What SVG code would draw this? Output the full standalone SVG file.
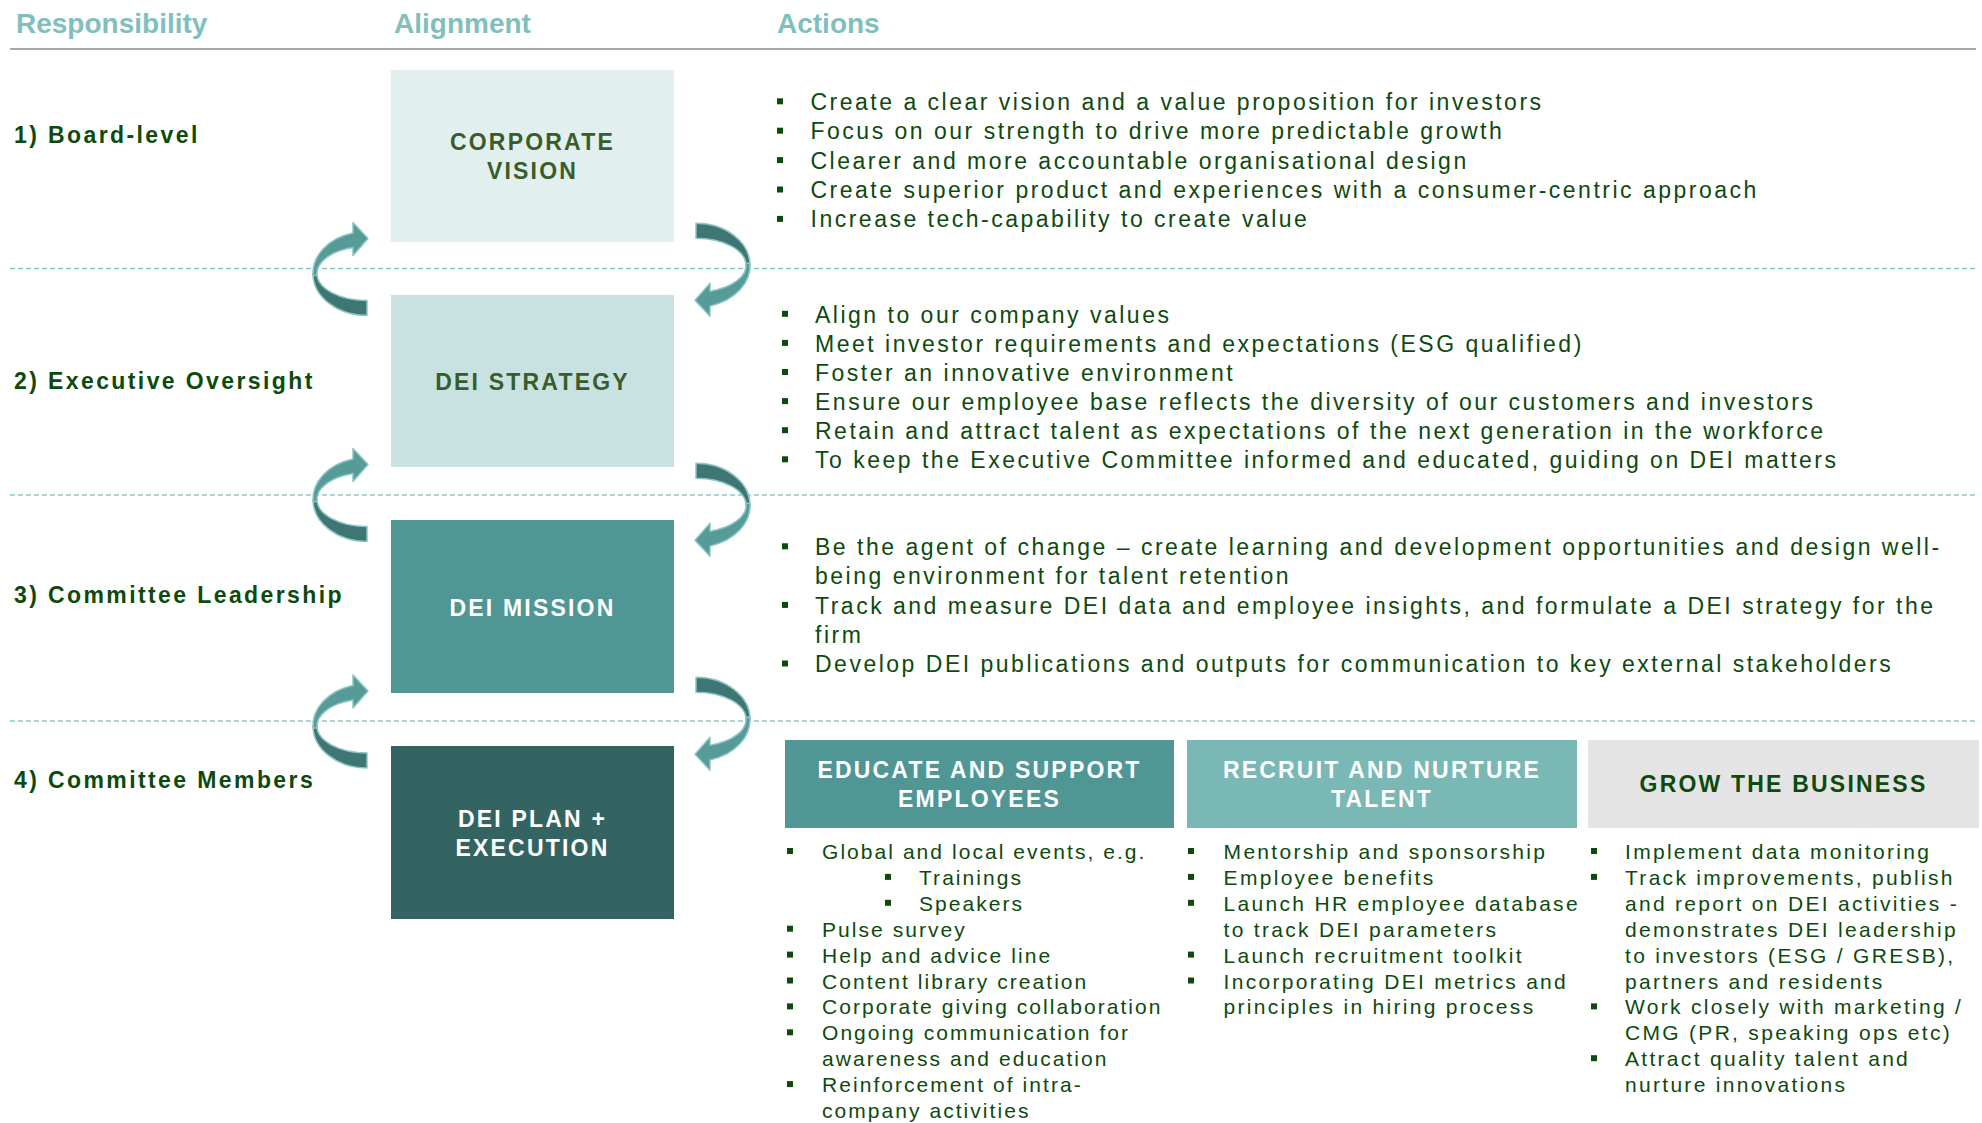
<svg xmlns="http://www.w3.org/2000/svg" xmlns:xlink="http://www.w3.org/1999/xlink" width="1982" height="1123" viewBox="0 0 1982 1123">
<defs>
<style>
.hdr{font-family:"Liberation Sans",Arial,sans-serif;font-weight:bold;font-size:28px;fill:#7FBFBD}
.lbl{font-family:"Liberation Sans",Arial,sans-serif;font-weight:bold;font-size:23px;letter-spacing:2.4px;fill:#0D4A0D}
.bt{font-family:"Liberation Sans",Arial,sans-serif;font-weight:bold;font-size:23px;letter-spacing:2.2px;text-anchor:middle}
.dk{fill:#3A5C2A}
.wh{fill:#FFFFFF}
.gr{fill:#0D4A0D}
.body{font-family:"Liberation Sans",Arial,sans-serif;font-size:23px;letter-spacing:2.5px;fill:#0D4A0D}
.sm{font-family:"Liberation Sans",Arial,sans-serif;font-size:21px;letter-spacing:2.3px;fill:#0D4A0D}
.c1{letter-spacing:2.05px}
.bul{fill:#0D4A0D}
.sep{stroke:#8CCAC8;stroke-width:1.6;stroke-dasharray:5 3;fill:none}
.lt{fill:#579B99;stroke:#8CC5C3;stroke-width:1.5;stroke-linejoin:round}
.dkf{fill:#3E7674;stroke:#8CC5C3;stroke-width:1.5;stroke-linejoin:round}
</style>
<g id="carrow">
<path class="dkf" d="M -54,0 A 54 42 0 0 0 0,42 L 0,27 A 50 27 0 0 1 -50,0 Z"/>
<path class="lt" d="M -14,-40.6 A 54 42 0 0 0 -54,2 L -50,2 A 50 27 0 0 1 -14,-25.9 L -14,-18 L 1,-35 L -14,-51 Z"/>
</g>
</defs>
<rect width="1982" height="1123" fill="#FFFFFF"/>

<g id="headers">
<text class="hdr" x="16" y="33">Responsibility</text>
<text class="hdr" x="394" y="33">Alignment</text>
<text class="hdr" x="777" y="33">Actions</text>
<line x1="10" y1="49" x2="1976" y2="49" stroke="#A8A8A8" stroke-width="2"/>
</g>

<g id="separators">
<line class="sep" x1="10" y1="268.5" x2="1976" y2="268.5"/>
<line class="sep" x1="10" y1="495" x2="1976" y2="495"/>
<line class="sep" x1="10" y1="721" x2="1976" y2="721"/>
</g>

<g id="responsibility-labels">
<text class="lbl" x="14" y="143">1) Board-level</text>
<text class="lbl" x="14" y="389">2) Executive Oversight</text>
<text class="lbl" x="14" y="603">3) Committee Leadership</text>
<text class="lbl" x="14" y="788">4) Committee Members</text>
</g>

<g id="node-corporate-vision">
<rect x="391" y="70" width="283" height="172" fill="#E1EFEF"/>
<text class="bt dk" x="532.5" y="150">CORPORATE</text>
<text class="bt dk" x="532.5" y="178.5">VISION</text>
</g>
<g id="node-dei-strategy">
<rect x="391" y="295" width="283" height="172" fill="#C8E2E1"/>
<text class="bt dk" x="532.5" y="390">DEI STRATEGY</text>
</g>
<g id="node-dei-mission">
<rect x="391" y="520" width="283" height="173" fill="#4F9694"/>
<text class="bt wh" x="532.5" y="616">DEI MISSION</text>
</g>
<g id="node-dei-plan">
<rect x="391" y="746" width="283" height="173" fill="#346462"/>
<text class="bt wh" x="532.5" y="826.7">DEI PLAN +</text>
<text class="bt wh" x="532.5" y="855.7">EXECUTION</text>
</g>

<g id="connectors">
<use xlink:href="#carrow" href="#carrow" transform="translate(367,273.5)"/>
<use xlink:href="#carrow" href="#carrow" transform="translate(367,499.5)"/>
<use xlink:href="#carrow" href="#carrow" transform="translate(367,726)"/>
<use xlink:href="#carrow" href="#carrow" transform="translate(696,265.3) rotate(180)"/>
<use xlink:href="#carrow" href="#carrow" transform="translate(696,505.3) rotate(180)"/>
<use xlink:href="#carrow" href="#carrow" transform="translate(696,719.3) rotate(180)"/>
</g>

<g id="actions-board">
<rect class="bul" x="777" y="98.3" width="6" height="6"/>
<rect class="bul" x="777" y="127.7" width="6" height="6"/>
<rect class="bul" x="777" y="157.1" width="6" height="6"/>
<rect class="bul" x="777" y="186.5" width="6" height="6"/>
<rect class="bul" x="777" y="215.9" width="6" height="6"/>
<text class="body" x="810.5" y="110">Create a clear vision and a value proposition for investors</text>
<text class="body" x="810.5" y="139.4">Focus on our strength to drive more predictable growth</text>
<text class="body" x="810.5" y="168.8">Clearer and more accountable organisational design</text>
<text class="body" x="810.5" y="198.2">Create superior product and experiences with a consumer-centric approach</text>
<text class="body" x="810.5" y="227.3">Increase tech-capability to create value</text>
</g>

<g id="actions-executive">
<rect class="bul" x="782" y="310.8" width="6" height="6"/>
<rect class="bul" x="782" y="339.9" width="6" height="6"/>
<rect class="bul" x="782" y="369" width="6" height="6"/>
<rect class="bul" x="782" y="398.1" width="6" height="6"/>
<rect class="bul" x="782" y="427.2" width="6" height="6"/>
<rect class="bul" x="782" y="456.3" width="6" height="6"/>
<text class="body" x="815" y="322.5">Align to our company values</text>
<text class="body" x="815" y="351.6">Meet investor requirements and expectations (ESG qualified)</text>
<text class="body" x="815" y="380.7">Foster an innovative environment</text>
<text class="body" x="815" y="409.8">Ensure our employee base reflects the diversity of our customers and investors</text>
<text class="body" x="815" y="438.9">Retain and attract talent as expectations of the next generation in the workforce</text>
<text class="body" x="815" y="468">To keep the Executive Committee informed and educated, guiding on DEI matters</text>
</g>

<g id="actions-committee">
<rect class="bul" x="782" y="543.3" width="6" height="6"/>
<rect class="bul" x="782" y="601.9" width="6" height="6"/>
<rect class="bul" x="782" y="660.5" width="6" height="6"/>
<text class="body" x="815" y="555">Be the agent of change – create learning and development opportunities and design well-</text>
<text class="body" x="815" y="584.3">being environment for talent retention</text>
<text class="body" x="815" y="613.6">Track and measure DEI data and employee insights, and formulate a DEI strategy for the</text>
<text class="body" x="815" y="642.9">firm</text>
<text class="body" x="815" y="672.2">Develop DEI publications and outputs for communication to key external stakeholders</text>
</g>

<g id="node-educate">
<rect x="785" y="740" width="389" height="88" fill="#4F9694"/>
<text class="bt wh" x="979.5" y="778.3">EDUCATE AND SUPPORT</text>
<text class="bt wh" x="979.5" y="806.7">EMPLOYEES</text>
</g>
<g id="node-recruit">
<rect x="1187" y="740" width="390" height="88" fill="#7AB8B6"/>
<text class="bt wh" x="1382" y="778.3">RECRUIT AND NURTURE</text>
<text class="bt wh" x="1382" y="806.7">TALENT</text>
</g>
<g id="node-grow">
<rect x="1588" y="740" width="391" height="88" fill="#E4E4E4"/>
<text class="bt gr" x="1783.5" y="791.7">GROW THE BUSINESS</text>
</g>

<g id="list-educate">
<rect class="bul" x="787" y="848" width="6" height="6"/>
<rect class="bul" x="885" y="873.9" width="6" height="6"/>
<rect class="bul" x="885" y="899.8" width="6" height="6"/>
<rect class="bul" x="787" y="925.7" width="6" height="6"/>
<rect class="bul" x="787" y="951.6" width="6" height="6"/>
<rect class="bul" x="787" y="977.5" width="6" height="6"/>
<rect class="bul" x="787" y="1003.4" width="6" height="6"/>
<rect class="bul" x="787" y="1029.3" width="6" height="6"/>
<rect class="bul" x="787" y="1081.1" width="6" height="6"/>
<text class="sm c1" x="822" y="859">Global and local events, e.g.</text>
<text class="sm c1" x="919" y="884.9">Trainings</text>
<text class="sm c1" x="919" y="910.8">Speakers</text>
<text class="sm c1" x="822" y="936.7">Pulse survey</text>
<text class="sm c1" x="822" y="962.6">Help and advice line</text>
<text class="sm c1" x="822" y="988.5">Content library creation</text>
<text class="sm c1" x="822" y="1014.4">Corporate giving collaboration</text>
<text class="sm c1" x="822" y="1040.3">Ongoing communication for</text>
<text class="sm c1" x="822" y="1066.2">awareness and education</text>
<text class="sm c1" x="822" y="1092.1">Reinforcement of intra-</text>
<text class="sm c1" x="822" y="1118">company activities</text>
</g>

<g id="list-recruit">
<rect class="bul" x="1188" y="848" width="6" height="6"/>
<rect class="bul" x="1188" y="873.9" width="6" height="6"/>
<rect class="bul" x="1188" y="899.8" width="6" height="6"/>
<rect class="bul" x="1188" y="951.6" width="6" height="6"/>
<rect class="bul" x="1188" y="977.5" width="6" height="6"/>
<text class="sm" x="1223.6" y="859">Mentorship and sponsorship</text>
<text class="sm" x="1223.6" y="884.9">Employee benefits</text>
<text class="sm" x="1223.6" y="910.8">Launch HR employee database</text>
<text class="sm" x="1223.6" y="936.7">to track DEI parameters</text>
<text class="sm" x="1223.6" y="962.6">Launch recruitment toolkit</text>
<text class="sm" x="1223.6" y="988.5">Incorporating DEI metrics and</text>
<text class="sm" x="1223.6" y="1014.4">principles in hiring process</text>
</g>

<g id="list-grow">
<rect class="bul" x="1591" y="848" width="6" height="6"/>
<rect class="bul" x="1591" y="873.9" width="6" height="6"/>
<rect class="bul" x="1591" y="1003.4" width="6" height="6"/>
<rect class="bul" x="1591" y="1055.2" width="6" height="6"/>
<text class="sm" x="1625" y="859">Implement data monitoring</text>
<text class="sm" x="1625" y="884.9">Track improvements, publish</text>
<text class="sm" x="1625" y="910.8">and report on DEI activities -</text>
<text class="sm" x="1625" y="936.7">demonstrates DEI leadership</text>
<text class="sm" x="1625" y="962.6">to investors (ESG / GRESB),</text>
<text class="sm" x="1625" y="988.5">partners and residents</text>
<text class="sm" x="1625" y="1014.4">Work closely with marketing /</text>
<text class="sm" x="1625" y="1040.3">CMG (PR, speaking ops etc)</text>
<text class="sm" x="1625" y="1066.2">Attract quality talent and</text>
<text class="sm" x="1625" y="1092.1">nurture innovations</text>
</g>
</svg>
